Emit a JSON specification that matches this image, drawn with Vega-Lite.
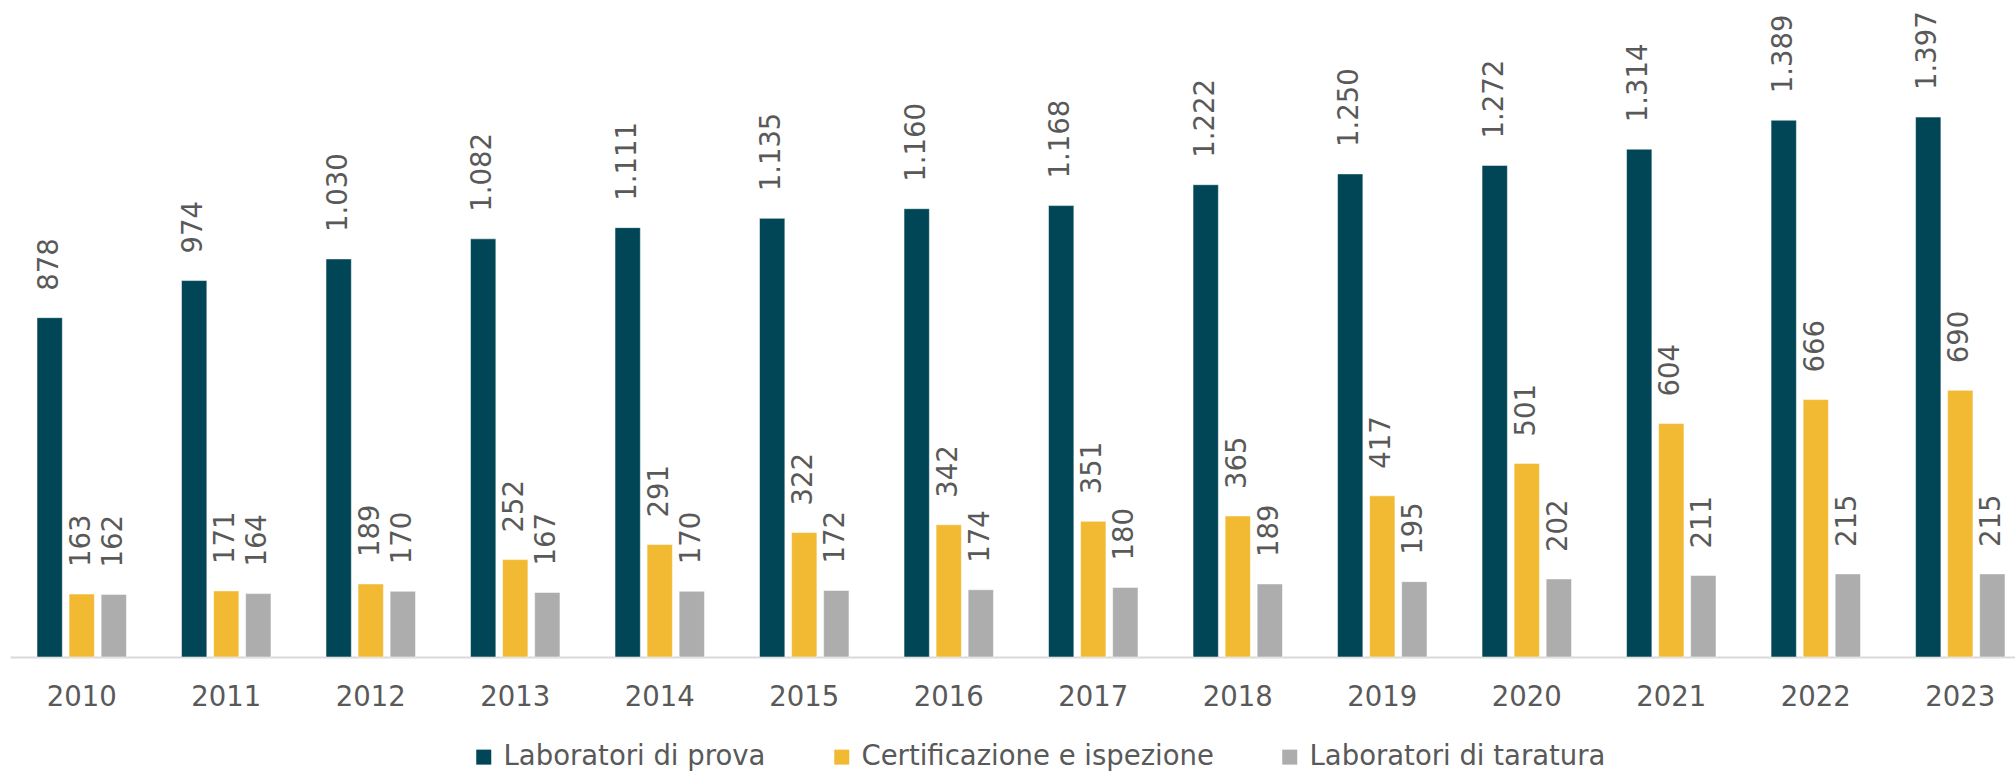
{
  "$schema": "https://vega.github.io/schema/vega-lite/v6.json",
  "width": 2005,
  "height": 657,
  "autosize": {"type": "none"},
  "padding": {"left": 10, "top": 0, "right": 0, "bottom": 114},
  "background": "white",
  "config": {
    "view": {"stroke": null},
    "font": "DejaVu Sans",
    "locale": {
      "number": {"decimal": ",", "thousands": ".", "grouping": [3], "currency": ["€", ""]}
    }
  },
  "data": {
    "values": [
      {"anno": "2010", "serie": "Laboratori di prova", "valore": 878},
      {"anno": "2011", "serie": "Laboratori di prova", "valore": 974},
      {"anno": "2012", "serie": "Laboratori di prova", "valore": 1030},
      {"anno": "2013", "serie": "Laboratori di prova", "valore": 1082},
      {"anno": "2014", "serie": "Laboratori di prova", "valore": 1111},
      {"anno": "2015", "serie": "Laboratori di prova", "valore": 1135},
      {"anno": "2016", "serie": "Laboratori di prova", "valore": 1160},
      {"anno": "2017", "serie": "Laboratori di prova", "valore": 1168},
      {"anno": "2018", "serie": "Laboratori di prova", "valore": 1222},
      {"anno": "2019", "serie": "Laboratori di prova", "valore": 1250},
      {"anno": "2020", "serie": "Laboratori di prova", "valore": 1272},
      {"anno": "2021", "serie": "Laboratori di prova", "valore": 1314},
      {"anno": "2022", "serie": "Laboratori di prova", "valore": 1389},
      {"anno": "2023", "serie": "Laboratori di prova", "valore": 1397},
      {"anno": "2010", "serie": "Certificazione e ispezione", "valore": 163},
      {"anno": "2011", "serie": "Certificazione e ispezione", "valore": 171},
      {"anno": "2012", "serie": "Certificazione e ispezione", "valore": 189},
      {"anno": "2013", "serie": "Certificazione e ispezione", "valore": 252},
      {"anno": "2014", "serie": "Certificazione e ispezione", "valore": 291},
      {"anno": "2015", "serie": "Certificazione e ispezione", "valore": 322},
      {"anno": "2016", "serie": "Certificazione e ispezione", "valore": 342},
      {"anno": "2017", "serie": "Certificazione e ispezione", "valore": 351},
      {"anno": "2018", "serie": "Certificazione e ispezione", "valore": 365},
      {"anno": "2019", "serie": "Certificazione e ispezione", "valore": 417},
      {"anno": "2020", "serie": "Certificazione e ispezione", "valore": 501},
      {"anno": "2021", "serie": "Certificazione e ispezione", "valore": 604},
      {"anno": "2022", "serie": "Certificazione e ispezione", "valore": 666},
      {"anno": "2023", "serie": "Certificazione e ispezione", "valore": 690},
      {"anno": "2010", "serie": "Laboratori di taratura", "valore": 162},
      {"anno": "2011", "serie": "Laboratori di taratura", "valore": 164},
      {"anno": "2012", "serie": "Laboratori di taratura", "valore": 170},
      {"anno": "2013", "serie": "Laboratori di taratura", "valore": 167},
      {"anno": "2014", "serie": "Laboratori di taratura", "valore": 170},
      {"anno": "2015", "serie": "Laboratori di taratura", "valore": 172},
      {"anno": "2016", "serie": "Laboratori di taratura", "valore": 174},
      {"anno": "2017", "serie": "Laboratori di taratura", "valore": 180},
      {"anno": "2018", "serie": "Laboratori di taratura", "valore": 189},
      {"anno": "2019", "serie": "Laboratori di taratura", "valore": 195},
      {"anno": "2020", "serie": "Laboratori di taratura", "valore": 202},
      {"anno": "2021", "serie": "Laboratori di taratura", "valore": 211},
      {"anno": "2022", "serie": "Laboratori di taratura", "valore": 215},
      {"anno": "2023", "serie": "Laboratori di taratura", "valore": 215}
    ]
  },
  "encoding": {
    "x": {
      "field": "anno",
      "type": "nominal",
      "scale": {"paddingInner": 0.381, "paddingOuter": 0.128, "align": 0.73},
      "axis": {
        "title": null,
        "labelAngle": 0,
        "ticks": false,
        "tickSize": 0,
        "grid": false,
        "domain": true,
        "domainColor": "#D9D9D9",
        "domainWidth": 2,
        "labelFont": "DejaVu Sans",
        "labelFontSize": 27.5,
        "labelColor": "#595959",
        "labelPadding": 26
      }
    },
    "xOffset": {
      "field": "serie",
      "type": "nominal",
      "sort": ["Laboratori di prova", "Certificazione e ispezione", "Laboratori di taratura"],
      "scale": {"paddingInner": 0.21, "paddingOuter": 0}
    },
    "y": {
      "field": "valore",
      "type": "quantitative",
      "scale": {"domain": [0, 1700]},
      "axis": null
    }
  },
  "layer": [
    {
      "mark": {"type": "bar", "stroke": "#ffffff", "strokeWidth": 1, "strokeOpacity": 0.5},
      "encoding": {
        "color": {
          "field": "serie",
          "type": "nominal",
          "scale": {
            "domain": ["Laboratori di prova", "Certificazione e ispezione", "Laboratori di taratura"],
            "range": ["#004656", "#F2BA33", "#ADADAD"]
          },
          "legend": {
            "title": null,
            "orient": "none",
            "legendX": 460,
            "legendY": 743,
            "direction": "horizontal",
            "symbolType": "square",
            "symbolSize": 225,
            "symbolStrokeWidth": 0,
            "symbolOpacity": 1,
            "labelFont": "DejaVu Sans",
            "labelFontSize": 27.5,
            "labelColor": "#595959",
            "labelOffset": 6,
            "labelLimit": 1000,
            "columnPadding": 62
          }
        }
      }
    },
    {
      "mark": {
        "type": "text",
        "angle": 270,
        "align": "left",
        "baseline": "middle",
        "dx": 27,
        "font": "DejaVu Sans",
        "fontSize": 27.5,
        "color": "#595959"
      },
      "encoding": {
        "text": {"field": "valore", "type": "quantitative", "format": ",d"}
      }
    }
  ]
}
